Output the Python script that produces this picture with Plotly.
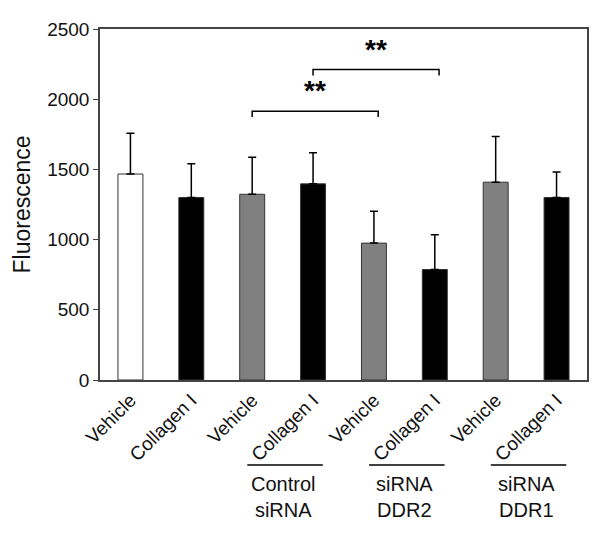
import plotly.graph_objects as go

# Data
categories = ["Vehicle", "Collagen I", "Vehicle", "Collagen I",
              "Vehicle", "Collagen I", "Vehicle", "Collagen I"]
values = [1467, 1300, 1323, 1397, 975, 787, 1409, 1300]
errors = [290, 241, 263, 221, 227, 248, 325, 181]
bar_colors = ["#ffffff", "#000000", "#808080", "#000000",
              "#808080", "#000000", "#808080", "#000000"]
group_labels = ["Control<br>siRNA", "siRNA<br>DDR2", "siRNA<br>DDR1"]
group_pairs = [(2, 3), (4, 5), (6, 7)]
y_ticks = [0, 500, 1000, 1500, 2000, 2500]
# significance brackets: (left bar index, right bar index, bracket level, label)
sig_brackets = [(2, 4, 1915, "**"), (3, 5, 2211, "**")]

FONT = "Liberation Sans, Arial, sans-serif"
xs = list(range(len(values)))

fig = go.Figure()
fig.add_trace(go.Bar(
    x=xs, y=values,
    marker=dict(color=bar_colors, line=dict(color="#333333", width=1)),
    width=0.41,
    error_y=dict(type="data", symmetric=False, array=errors,
                 arrayminus=[0] * len(errors),
                 color="#000000", thickness=1.5, width=4),
    showlegend=False,
))

shapes = []
annotations = []
for (a, b, lvl, lab) in sig_brackets:
    x0, x1 = a, b + 0.07
    leg = 42
    shapes.append(dict(type="path", xref="x", yref="y",
                       path=f"M {x0} {lvl-leg} L {x0} {lvl} L {x1} {lvl} L {x1} {lvl-leg}",
                       line=dict(color="#000000", width=1.5)))
    annotations.append(dict(x=(x0 + x1) / 2, y=lvl + 20, xref="x", yref="y",
                            text=f"<b>{lab}</b>", showarrow=False,
                            yanchor="bottom",
                            font=dict(size=28, color="#000000", family=FONT)))

for (pair, lab) in zip(group_pairs, group_labels):
    c = (pair[0] + pair[1]) / 2 + 0.04
    shapes.append(dict(type="line", xref="x", yref="paper",
                       x0=c - 0.62, x1=c + 0.62, y0=-0.242, y1=-0.242,
                       line=dict(color="#000000", width=1.5)))
    annotations.append(dict(x=c - 0.03, y=-0.333, xref="x", yref="paper",
                            text=lab, showarrow=False, yanchor="middle",
                            font=dict(size=20, color="#111111", family=FONT)))

fig.update_layout(
    width=592, height=532,
    margin=dict(l=92, r=11, t=13, b=160),
    paper_bgcolor="white", plot_bgcolor="white",
    font=dict(family=FONT, color="#111111"),
    shapes=shapes, annotations=annotations,
)
fig.update_xaxes(
    range=[-0.5, 7.5], tickmode="array", tickvals=xs, ticktext=categories,
    tickangle=-45, tickfont=dict(size=19, color="#111111"),
    showline=True, linecolor="#444444", linewidth=1.5, mirror=True,
    ticks="", showgrid=False, zeroline=False,
)
fig.update_yaxes(
    range=[0, 2500], tickmode="array", tickvals=y_ticks,
    tickfont=dict(size=19, color="#111111"),
    title=dict(text="Fluorescence", font=dict(size=23, color="#111111"), standoff=10),
    showline=True, linecolor="#444444", linewidth=1.5, mirror=True,
    ticks="outside", ticklen=5, tickcolor="#444444",
    showgrid=False, zeroline=False,
)

fig.write_html("out.html")
